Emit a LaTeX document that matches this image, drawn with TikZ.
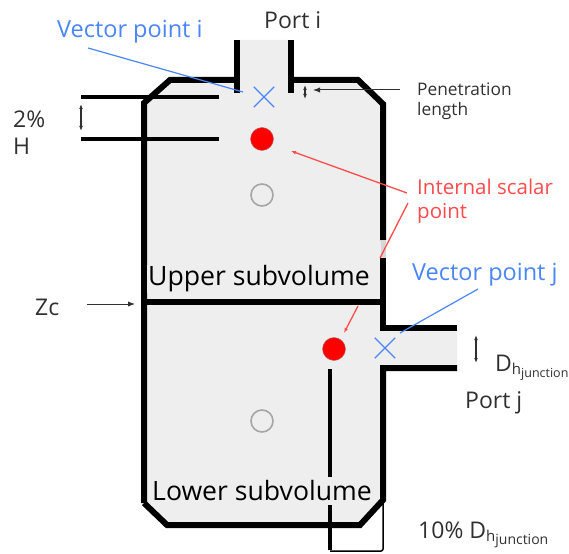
\documentclass[tikz,border=0pt]{standalone}
\usepackage{fontspec}
\setmainfont{Open Sans}
\usetikzlibrary{arrows.meta,positioning,shapes.misc}
\definecolor{vesselgray}{HTML}{EEEEEE}
\definecolor{wallblack}{HTML}{000000}
\definecolor{vectorblue}{HTML}{4A86F7}
\definecolor{scalarred}{HTML}{FF4B4B}
\definecolor{coregray}{HTML}{A6A6A6}
\definecolor{labelgray}{HTML}{303030}
\tikzset{
  wall/.style={line width=6pt, draw=wallblack, line cap=butt, line join=miter},
  refline/.style={line width=3.2pt, draw=wallblack},
  thinline/.style={line width=1.5pt, draw=wallblack, rounded corners=2pt},
  bluetext/.style={text=vectorblue, inner sep=0pt, anchor=west, font=\fontsize{23.5}{27}\selectfont},
  redtext/.style={text=scalarred, inner sep=0pt, anchor=west, align=left, font=\fontsize{20.5}{24}\selectfont},
  blacktext/.style={text=labelgray, inner sep=0pt, anchor=west, align=left, font=\fontsize{23}{27}\selectfont},
  smalltext/.style={text=labelgray, inner sep=0pt, anchor=west, align=left, font=\fontsize{17.3}{20}\selectfont},
  subvol/.style={fill=vesselgray, text=black, inner sep=1pt, anchor=west, minimum height=28pt, font=\fontsize{26.6}{30}\selectfont},
  vectorpt/.style={cross out, draw=vectorblue, line width=1.3pt, minimum size=19pt, inner sep=0pt},
  scalarpt/.style={circle, fill=red, draw=scalarred!40!gray, line width=0.4pt, minimum size=23pt, inner sep=0pt},
  corept/.style={circle, draw=coregray, line width=1.6pt, fill=vesselgray, minimum size=22pt, inner sep=0pt},
  blueline/.style={draw=vectorblue, line width=1.2pt},
  redline/.style={draw=scalarred, line width=1.3pt},
  redarrow/.style={redline, -{Latex[length=5pt]}},
  leader/.style={draw=labelgray, line width=1pt, -{Latex[length=7pt]}},
  dimarrow/.style={draw=labelgray, line width=1.2pt, {Latex[length=5pt]}-{Latex[length=5pt]}}
}
\newcommand{\Dhj}[1]{D\raisebox{-3pt}{\fontsize{15}{15}\selectfont h}\raisebox{-6pt}{\fontsize{#1}{#1}\selectfont junction}}
\begin{document}
\begin{tikzpicture}[x=1pt,y=-1pt]
  \useasboundingbox (0,0) rectangle (569,553);

  % vessel
  \fill[vesselgray] (239,40) -- (289,40) -- (289,80) -- (358,80) -- (383,104) -- (383,328) -- (457,328)
    -- (457,368) -- (383,368) -- (383,500) -- (360,525) -- (167,525) -- (144,503) -- (144,103) -- (170,80)
    -- (239,80) -- cycle;

  % reference lines
  \draw[refline] (81,97) -- (219,97);
  \draw[refline] (81,139) -- (219,139);
  \draw[refline] (330,369) -- (330,550);
  \draw[thinline] (330,551) -- (383,551) -- (383,500);

  % walls
  \draw[wall] (237,40) -- (237,93);
  \draw[wall] (291,40) -- (291,93);
  \draw[wall] (144,503) -- (144,103) -- (170,80) -- (237,80);
  \draw[wall] (291,80) -- (358,80) -- (383,104) -- (383,240);
  \draw[wall] (383,258) -- (383,328) -- (457,328);
  \draw[wall] (457,368) -- (383,368) -- (383,500) -- (360,525) -- (167,525) -- (144,503);
  \draw[wall] (144,302) -- (383,302);
  \draw[line width=5pt, draw=coregray!45] (383.5,240) -- (383.5,258);

  % points
  \node[vectorpt] (vecI) at (264,97) {};
  \node[scalarpt] (scalarU) at (262,139) {};
  \node[corept] (coreU) at (262,195) {};
  \node[scalarpt] (scalarL) at (334,349) {};
  \node[vectorpt] (vecJ) at (385,348) {};
  \node[corept] (coreL) at (262,421) {};

  % labels
  \node[blacktext] (portI) at (264,20) {Port i};
  \node[bluetext] (vecIlabel) at (57,32) {Vector point i};
  \node[blacktext] (pct) at (13,133) {2\%\\H};
  \node[smalltext] (penlabel) at (417,101) {Penetration\\length};
  \node[redtext] (intlabel) at (417,201) {Internal scalar\\point};
  \node[subvol] (upper) at (147,279) {Upper subvolume};
  \node[bluetext] (vecJlabel) at (412,275) {Vector point j};
  \node[blacktext] (zc) at (35,307) {Zc};
  \node[blacktext] (dhj) at (495,368) {\Dhj{12.5}};
  \node[blacktext] (portJ) at (465,403) {Port j};
  \node[subvol] (lower) at (151,491) {Lower subvolume};
  \node[blacktext] (tenpct) at (418,535) {10\% \Dhj{14}};

  % connectors
  \coordinate (vecIfrom) at (88,48);
  \coordinate (vecIto) at (243,92);
  \coordinate (penfrom) at (400,90);
  \coordinate (pento) at (313,90);
  \coordinate (intA) at (407,193);
  \coordinate (intAto) at (291,151);
  \coordinate (intB) at (408,203);
  \coordinate (intBto) at (380,258);
  \coordinate (intC) at (358,306);
  \coordinate (intCto) at (344,333);
  \coordinate (vecJfrom) at (478,289);
  \coordinate (vecJto) at (400,333);
  \coordinate (zcfrom) at (87,304);
  \coordinate (zcto) at (135,304);
  \draw[blueline] (vecIfrom) -- (vecIto);
  \draw[blueline] (vecJfrom) -- (vecJto);
  \draw[redarrow] (intA) -- (intAto);
  \draw[redline] (intB) -- (intBto);
  \draw[redarrow] (intC) -- (intCto);
  \draw[leader] (penfrom) -- (pento);
  \draw[leader] (zcfrom) -- (zcto);

  \draw[dimarrow] (81,104) -- (81,131);
  \draw[dimarrow] (305,85) -- (305,99);
  \draw[dimarrow] (476,335) -- (476,363);
\end{tikzpicture}
\end{document}
